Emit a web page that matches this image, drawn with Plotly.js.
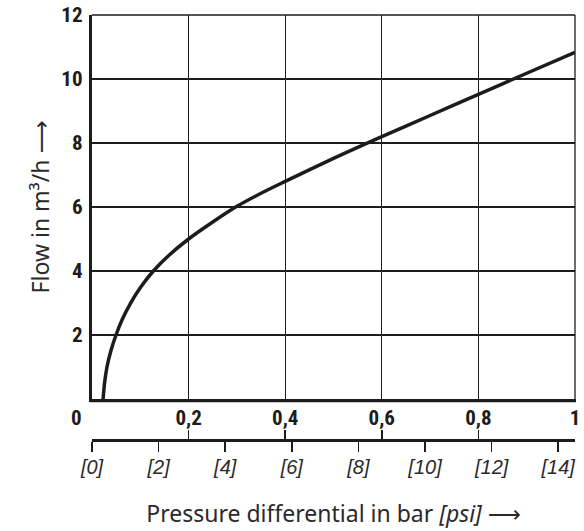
<!DOCTYPE html>
<html>
<head>
<meta charset="utf-8">
<script src="https://cdn.plot.ly/plotly-3.0.1.min.js"></script>
<style>
  html, body { margin: 0; padding: 0; background: #fff; }
  #chart { width: 584px; height: 531px; }
</style>
</head>
<body>
<div id="chart"></div>
<script>
// Pressure differential (bar) and flow (m³/h)
const pressureBar = [0.023, 0.026, 0.031, 0.039, 0.0497, 0.063, 0.080, 0.101, 0.127, 0.16, 0.2, 0.25, 0.3, 0.35, 0.4, 0.5, 0.6, 0.7, 0.8, 0.9, 1.0];
const flowM3h    = [0.0,   0.5,   1.0,   1.5,   2.0,    2.5,   3.0,   3.5,   4.0,   4.5,  5.0, 5.53, 6.02, 6.43, 6.8, 7.52, 8.2, 8.86, 9.52, 10.18, 10.83];

// Axis ticks
const barTickVals   = [0.2, 0.4, 0.6, 0.8, 1];
const barTickText   = ['0,2', '0,4', '0,6', '0,8', '1'];
const barMinorVals  = [0, 0.2, 0.4, 0.6, 0.8, 1];
const psiTickVals   = [0, 2, 4, 6, 8, 10, 12, 14];
const psiTickText   = ['[0]', '[2]', '[4]', '[6]', '[8]', '[10]', '[12]', '[14]'];
const flowTickVals  = [2, 4, 6, 8, 10, 12];
const flowTickText  = ['2', '4', '6', '8', '10', '12'];
const PSI_PER_BAR = 14.5038;

const ink = '#1c1c1c';
const numFont = { family: 'Roboto Condensed, DejaVu Sans Condensed, Liberation Sans, sans-serif', size: 21, color: ink, weight: 'bold' };
const psiFont = { family: 'Liberation Sans, Arial, sans-serif', size: 20, color: '#2a2a2a', style: 'italic' };
const titleFont = { family: 'Noto Sans, Open Sans, sans-serif', size: 23, color: '#2a2a2a' };
const arrow = "<span style='font-family:DejaVu Sans'>⟶</span>";

const mainBottom = 0.0943;

const data = [{
  type: 'scatter', mode: 'lines',
  x: pressureBar, y: flowM3h,
  line: { color: ink, width: 3.5, shape: 'spline', smoothing: 0.8 },
  hoverinfo: 'skip', showlegend: false
}, {
  type: 'scatter', mode: 'lines', xaxis: 'x2', yaxis: 'y2',
  x: psiTickVals, y: psiTickVals.map(() => null),
  hoverinfo: 'skip', showlegend: false
}, {
  type: 'scatter', mode: 'lines', xaxis: 'x3', yaxis: 'y2',
  x: barMinorVals, y: barMinorVals.map(() => null),
  hoverinfo: 'skip', showlegend: false
}];

const layout = {
  width: 584, height: 531,
  margin: { l: 92, r: 9, t: 15, b: 92 },
  paper_bgcolor: '#fff', plot_bgcolor: '#fff',
  showlegend: false,
  xaxis: {
    range: [0, 1], anchor: 'y', domain: [0, 1],
    tickmode: 'array', tickvals: barTickVals, ticktext: barTickText,
    ticks: '', ticklabelstandoff: -3,
    tickfont: numFont,
    showline: true, linecolor: ink, linewidth: 3.3,
    showgrid: true, gridcolor: ink, gridwidth: 1.3,
    zeroline: false, fixedrange: true
  },
  yaxis: {
    range: [0, 12], domain: [mainBottom, 1], anchor: 'x',
    tickmode: 'array', tickvals: flowTickVals, ticktext: flowTickText,
    ticks: '', ticklabelstandoff: 2,
    tickfont: numFont,
    showline: true, linecolor: ink, linewidth: 3.3,
    showgrid: true, gridcolor: ink, gridwidth: 1.3,
    zeroline: false, fixedrange: true,
    title: { text: 'Flow in m³/h ' + arrow, font: titleFont, standoff: 6 }
  },
  xaxis2: {
    anchor: 'y2', domain: [0, 1],
    range: [0, PSI_PER_BAR],
    tickmode: 'array', tickvals: psiTickVals, ticktext: psiTickText,
    ticks: 'outside', ticklen: 10, tickwidth: 1.5, tickcolor: ink,
    tickfont: psiFont, ticklabelstandoff: -2,
    showline: true, linecolor: ink, linewidth: 3,
    showgrid: false, zeroline: false, fixedrange: true,
    title: { text: 'Pressure differential in bar <i>[psi]</i> ' + arrow, font: titleFont, standoff: 29 }
  },
  yaxis2: {
    anchor: 'x2', domain: [0, 0.002], range: [0, 1], visible: false, fixedrange: true
  },
  xaxis3: {
    overlaying: 'x2', anchor: 'y2',
    range: [0, 1],
    tickmode: 'array', tickvals: barMinorVals,
    ticks: 'inside', ticklen: 9, tickwidth: 1.5, tickcolor: ink,
    showticklabels: false, showline: false,
    showgrid: false, zeroline: false, fixedrange: true
  },
  shapes: [
    { type: 'line', xref: 'x domain', yref: 'y domain', x0: 0, x1: 1, y0: 1, y1: 1, line: { color: ink, width: 1.3 } },
    { type: 'line', xref: 'x domain', yref: 'y domain', x0: 1, x1: 1, y0: 0, y1: 1, line: { color: ink, width: 1.3 } },
    { type: 'line', xref: 'x domain', yref: 'y domain', x0: -0.0035, x1: 1.002, y0: -0.004, y1: -0.004, line: { color: ink, width: 3.3 } }
  ],
  annotations: [
    { text: '0', xref: 'paper', yref: 'paper', x: 0, y: mainBottom, xanchor: 'center', yanchor: 'top',
      xshift: -16, yshift: -5, showarrow: false, font: numFont }
  ]
};

Plotly.newPlot('chart', data, layout, { displayModeBar: false, staticPlot: true });
</script>
</body>
</html>
